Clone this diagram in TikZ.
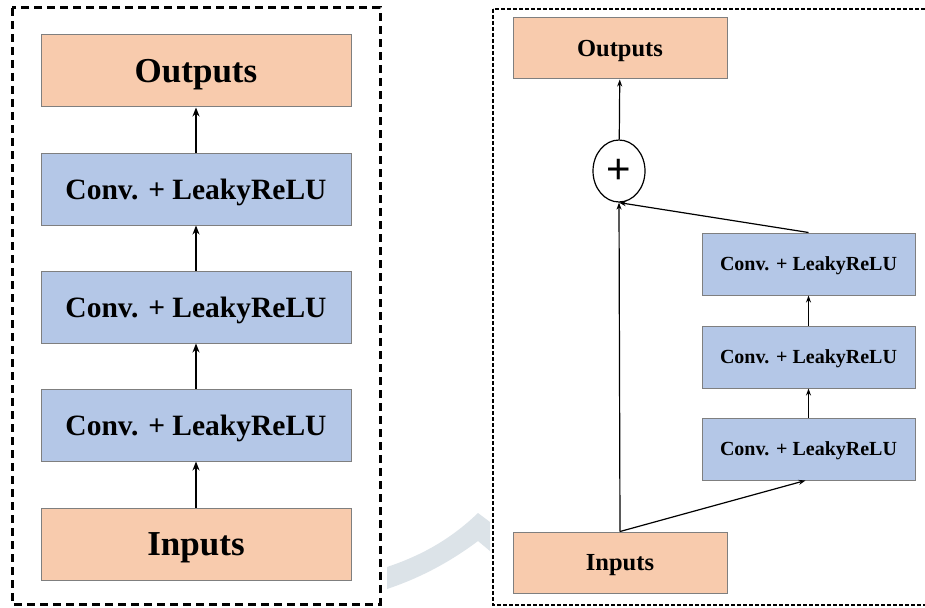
\documentclass[tikz,border=0pt]{standalone}
\usepackage{fontspec}
\setmainfont{Liberation Serif}
\newfontfamily\plusfont{Liberation Sans}
\usepackage{tikz}
\usetikzlibrary{arrows}
\usetikzlibrary{arrows.meta}
\usetikzlibrary{shapes}
\usetikzlibrary{positioning}
\definecolor{ioorange}{HTML}{F8CBAD}
\definecolor{convblue}{HTML}{B4C7E7}
\definecolor{boxline}{HTML}{7F7F7F}
\definecolor{markgray}{HTML}{DCE3E8}
\tikzstyle{frame}=[draw=black, line width=3pt, dash pattern=on 8pt off 5pt]
\tikzstyle{thinframe}=[draw=black, line width=1.5pt, dash pattern=on 4pt off 2pt]
\tikzstyle{bigio}=[rectangle, draw=boxline, line width=1pt, fill=ioorange, minimum width=310pt, minimum height=72pt, inner sep=0pt, text depth=0pt, font=\fontsize{35}{40}\selectfont\bfseries]
\tikzstyle{bigconv}=[rectangle, draw=boxline, line width=1pt, fill=convblue, minimum width=310pt, minimum height=72pt, inner sep=0pt, text depth=0pt, font=\fontsize{29.5}{34}\selectfont\bfseries]
\tikzstyle{smallio}=[rectangle, draw=boxline, line width=1pt, fill=ioorange, minimum width=214pt, minimum height=61pt, inner sep=0pt, text depth=0pt, font=\fontsize{24.5}{28}\selectfont\bfseries]
\tikzstyle{smallconv}=[rectangle, draw=boxline, line width=1pt, fill=convblue, minimum width=213pt, minimum height=62pt, inner sep=0pt, text depth=0pt, font=\fontsize{20}{24}\selectfont\bfseries]
\tikzstyle{addop}=[ellipse, draw=black, line width=1.2pt, fill=white, minimum width=52pt, minimum height=62pt, inner sep=0pt, font=\plusfont\fontsize{42}{46}\selectfont]
\tikzstyle{tran}=[draw, line width=2pt, -{Stealth[length=9pt,width=7pt]}]
\tikzstyle{thintran}=[draw, line width=1.2pt, -{Stealth[length=7pt,width=5pt]}]

\begin{document}
\begin{tikzpicture}[x=1pt, y=-1pt]

\useasboundingbox[fill=white] (0,0) rectangle (925,607);

% faint mark between the panels
\fill[markgray] (387,567) .. controls (420,556) and (450,540) .. (478,513)
  -- (490,522) -- (490,551) -- (478,541)
  .. controls (450,562) and (420,578) .. (387,589) -- cycle;

% left panel
\draw[frame] (12,8) rectangle (380,604);

\node[bigio] (lout)        at (196,71)  {Outputs};
\node[bigconv] (lconv3)    at (196,189) {Conv. + LeakyReLU};
\node[bigconv] (lconv2)    at (196,307) {Conv. + LeakyReLU};
\node[bigconv] (lconv1)    at (196,425) {Conv. + LeakyReLU};
\node[bigio] (lin)         at (196,544) {Inputs};

\draw[tran] (lin)    to (lconv1);
\draw[tran] (lconv1) to (lconv2);
\draw[tran] (lconv2) to (lconv3);
\draw[tran] (lconv3) to (lout);

% right panel
\draw[thinframe] (493,9) rectangle (935,605);

\node[smallio] (rout)      at (620,48.5)  {Outputs};
\node[addop] (sum)         at (619,171)   {+};
\node[smallconv] (rconv3)  at (808.5,264) {Conv. + LeakyReLU};
\node[smallconv] (rconv2)  at (808.5,357) {Conv. + LeakyReLU};
\node[smallconv] (rconv1)  at (808.5,449) {Conv. + LeakyReLU};
\node[smallio] (rin)       at (620,562.5) {Inputs};

\draw[thintran] (rin.north)   to (sum.south);
\draw[thintran] (rin.north)   to ([xshift=-3pt]rconv1.south);
\draw[thintran] (rconv1)      to (rconv2);
\draw[thintran] (rconv2)      to (rconv3);
\draw[thintran] (rconv3.north) to (sum.south);
\draw[thintran] (sum)         to (rout);

\end{tikzpicture}
\end{document}
